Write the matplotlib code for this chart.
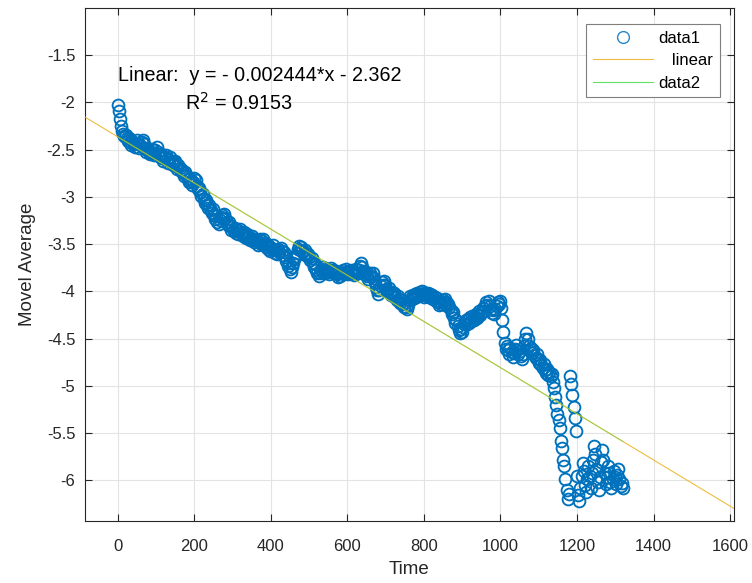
import matplotlib
matplotlib.use("Agg")
import matplotlib.pyplot as plt
import numpy as np

plt.rcParams['font.family'] = ['Liberation Sans', 'DejaVu Sans']

time_start = 0
time_step = 3
moving_avg = [
    -2.03, -2.09, -2.17, -2.25, -2.30, -2.33, -2.36, -2.34, -2.38, -2.41,
    -2.38, -2.42, -2.45, -2.41, -2.44, -2.47, -2.43, -2.40, -2.44, -2.48,
    -2.45, -2.42, -2.40, -2.44, -2.49, -2.52, -2.48, -2.51, -2.55, -2.52,
    -2.49, -2.53, -2.56, -2.50, -2.47, -2.52, -2.56, -2.58, -2.55, -2.59,
    -2.62, -2.58, -2.56, -2.60, -2.64, -2.61, -2.58, -2.62, -2.66, -2.63,
    -2.62, -2.67, -2.70, -2.66, -2.69, -2.73, -2.71, -2.75, -2.78, -2.74,
    -2.77, -2.81, -2.84, -2.80, -2.83, -2.87, -2.84, -2.80, -2.82, -2.88,
    -2.92, -2.90, -2.95, -2.99, -2.97, -3.02, -3.06, -3.03, -3.08, -3.12,
    -3.09, -3.14, -3.17, -3.13, -3.19, -3.23, -3.20, -3.26, -3.29, -3.24,
    -3.21, -3.19, -3.23, -3.18, -3.22, -3.27, -3.30, -3.26, -3.31, -3.35,
    -3.32, -3.36, -3.33, -3.38, -3.35, -3.39, -3.36, -3.34, -3.38, -3.41,
    -3.37, -3.40, -3.43, -3.39, -3.42, -3.46, -3.43, -3.41, -3.45, -3.48,
    -3.44, -3.47, -3.51, -3.48, -3.45, -3.50, -3.47, -3.44, -3.49, -3.53,
    -3.50, -3.55, -3.52, -3.57, -3.54, -3.51, -3.55, -3.59, -3.56, -3.60,
    -3.55, -3.58, -3.54, -3.57, -3.61, -3.58, -3.64, -3.68, -3.73, -3.70,
    -3.76, -3.79, -3.74, -3.70, -3.66, -3.62, -3.59, -3.55, -3.52, -3.56,
    -3.53, -3.57, -3.60, -3.56, -3.59, -3.63, -3.60, -3.64, -3.67, -3.65,
    -3.70, -3.74, -3.71, -3.77, -3.81, -3.84, -3.80, -3.76, -3.79, -3.74,
    -3.77, -3.80, -3.76, -3.79, -3.82, -3.78, -3.75, -3.79, -3.77, -3.81,
    -3.78, -3.82, -3.85, -3.81, -3.84, -3.80, -3.77, -3.82, -3.79, -3.76,
    -3.79, -3.82, -3.78, -3.81, -3.77, -3.80, -3.83, -3.79, -3.76, -3.80,
    -3.77, -3.73, -3.70, -3.74, -3.78, -3.82, -3.79, -3.84, -3.87, -3.83,
    -3.80, -3.84, -3.81, -3.86, -3.90, -3.95, -3.99, -4.03, -3.98, -3.94,
    -3.90, -3.93, -3.89, -3.93, -3.97, -4.00, -3.96, -4.01, -4.04, -4.01,
    -4.05, -4.02, -4.06, -4.09, -4.05, -4.08, -4.12, -4.09, -4.13, -4.16,
    -4.12, -4.16, -4.19, -4.14, -4.09, -4.05, -4.08, -4.04, -4.07, -4.03,
    -4.06, -4.02, -4.05, -4.01, -4.04, -4.00, -4.03, -4.06, -4.02, -4.05,
    -4.02, -4.05, -4.03, -4.07, -4.04, -4.08, -4.06, -4.10, -4.07, -4.11,
    -4.14, -4.10, -4.13, -4.09, -4.12, -4.08, -4.11, -4.15, -4.13, -4.17,
    -4.20, -4.24, -4.22, -4.28, -4.33, -4.30, -4.37, -4.41, -4.44, -4.40,
    -4.43, -4.38, -4.34, -4.30, -4.34, -4.29, -4.33, -4.27, -4.31, -4.26,
    -4.30, -4.27, -4.24, -4.28, -4.25, -4.21, -4.25, -4.22, -4.18, -4.21,
    -4.15, -4.11, -4.14, -4.10, -4.15, -4.19, -4.23, -4.20, -4.24, -4.19,
    -4.15, -4.11, -4.13, -4.10, -4.18, -4.30, -4.43, -4.55, -4.61, -4.58,
    -4.62, -4.66, -4.60, -4.64, -4.69, -4.65, -4.61, -4.57, -4.62, -4.66,
    -4.63, -4.68, -4.71, -4.66, -4.58, -4.50, -4.44, -4.50, -4.58, -4.63,
    -4.60, -4.65, -4.62, -4.67, -4.70, -4.66, -4.72, -4.76, -4.73, -4.78,
    -4.81, -4.77, -4.83, -4.86, -4.82, -4.88, -4.85, -4.90, -4.87, -4.96,
    -5.02, -5.12, -5.20, -5.30, -5.36, -5.45, -5.58, -5.66, -5.78, -5.85,
    -5.98, -6.10, -6.20, -6.14, -4.90, -4.98, -5.10, -5.22, -5.34, -5.48,
    -5.95, -6.15, -6.22, -6.08, -5.95, -5.82, -5.90, -6.05, -6.12, -5.98,
    -5.85, -5.95, -6.08, -5.92, -5.78, -5.64, -5.72, -5.88, -6.02, -6.10,
    -5.96, -5.80, -5.68, -5.78, -5.92, -6.04, -5.96, -5.85, -5.92, -6.02,
    -6.08, -5.98, -5.90, -5.96, -6.04, -5.94, -5.88, -5.98, -6.06, -6.03,
    -6.08,
]
time = [time_start + i * time_step for i in range(len(moving_avg))]

fit_slope = -0.002444
fit_intercept = -2.362

x_limits = [-85, 1610]
y_limits = [-6.43, -1.0]
x_ticks = [0, 200, 400, 600, 800, 1000, 1200, 1400, 1600]
y_ticks = [-6, -5.5, -5, -4.5, -4, -3.5, -3, -2.5, -2, -1.5]

# ---- figure ----
fig = plt.figure(figsize=(7.52, 5.83), dpi=100)
ax = fig.add_axes([0.113, 0.1063, 0.863, 0.88])

blue = '#0072BD'
yellow = '#EDB120'
green = '#44DD44'

ax.plot(time, moving_avg, linestyle='none', marker='o', markersize=8.5,
        markerfacecolor='none', markeredgecolor=blue, markeredgewidth=1.35,
        label='data1', zorder=3)

xl = np.array(x_limits)
xd = np.array([min(time), max(time)])
ax.plot(xl, fit_slope * xl + fit_intercept, color=yellow, lw=0.8,
        alpha=0.85, label='   linear', zorder=4)
ax.plot(xd, fit_slope * xd + fit_intercept, color=green, lw=0.8,
        alpha=0.45, label='data2', zorder=5)

ax.set_xlim(x_limits)
ax.set_ylim(y_limits)
ax.set_xticks(x_ticks)
ax.set_yticks(y_ticks)
ax.set_yticklabels([('%g' % v) for v in y_ticks])

ax.grid(True, color='#e3e3e3', linewidth=0.8)
ax.set_axisbelow(True)
for s in ax.spines.values():
    s.set_color('#262626')
    s.set_linewidth(0.8)
ax.tick_params(direction='in', length=5, width=0.8, colors='#262626',
               top=True, right=True, labelsize=12)
ax.tick_params(axis='x', pad=13)
ax.tick_params(axis='y', pad=7)

ax.set_xlabel('Time', fontsize=13.5, color='#262626', labelpad=5)
ax.set_ylabel('Movel Average', fontsize=13.5, color='#262626', labelpad=8)

ax.text(0.051, 0.869, 'Linear:  y = - 0.002444*x - 2.362', transform=ax.transAxes,
        fontsize=14.2, va='center', ha='left', color='black')
ax.text(0.154, 0.815, r'R$^2$ = 0.9153', transform=ax.transAxes,
        fontsize=14.2, va='center', ha='left', color='black')

leg = ax.legend(loc='upper right', bbox_to_anchor=(0.978, 0.969), borderaxespad=0,
                fontsize=12, handlelength=3.6, handletextpad=0.3, labelspacing=0.45,
                borderpad=0.4, fancybox=False, framealpha=1, edgecolor='#7f7f7f')
leg.get_frame().set_linewidth(0.8)
for h in leg.legend_handles:
    h.set_alpha(0.85)
    try:
        h.set_markeredgewidth(1.0)
    except AttributeError:
        pass

fig.savefig('out.png', dpi=100)
